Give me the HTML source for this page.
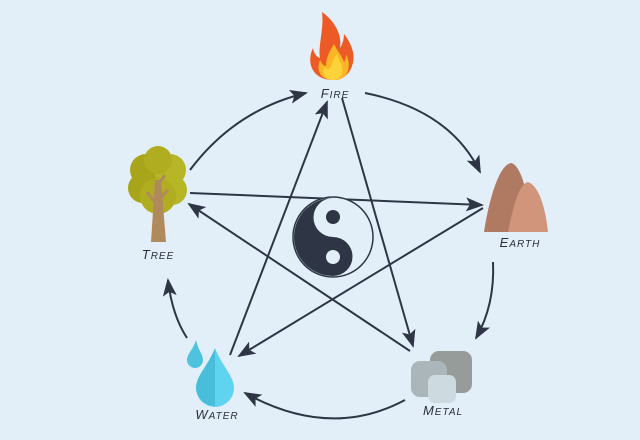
<!DOCTYPE html>
<html><head><meta charset="utf-8"><style>
html,body{margin:0;padding:0;background:#e2eff9;}
svg{display:block}
text{font-family:"Liberation Sans",sans-serif;font-style:italic;fill:#2b2f38;letter-spacing:1px}
</style></head><body>
<svg width="640" height="440" viewBox="0 0 640 440" xmlns="http://www.w3.org/2000/svg">
<defs>
<marker id="b" markerWidth="18" markerHeight="14" refX="16" refY="7" orient="auto" markerUnits="userSpaceOnUse">
<path d="M0,0 L18,7 L0,14 L4,7 Z" fill="#2e3645"/>
</marker>
</defs>
<rect width="640" height="440" fill="#e2eff9"/>
<g fill="none" stroke="#2e3645" stroke-width="2">
<path d="M190,170 Q235,110 306,93" marker-end="url(#b)"/>
<path d="M365,93 Q450,110 480,172" marker-end="url(#b)"/>
<path d="M493,262 Q495,305 476,338" marker-end="url(#b)"/>
<path d="M405,400 Q330,440 245,393" marker-end="url(#b)"/>
<path d="M187,338 Q172,315 168,280" marker-end="url(#b)"/>
<path d="M342,98 L413,346" marker-end="url(#b)"/>
<path d="M230,355 L327,102" marker-end="url(#b)"/>
<path d="M190,193 L482,205" marker-end="url(#b)"/>
<path d="M483,208 L239,356" marker-end="url(#b)"/>
<path d="M410,351 L189,204" marker-end="url(#b)"/>
</g>
<circle cx="333" cy="237" r="40" fill="#e2eff9" stroke="#2e3645" stroke-width="1.5"/>
<path d="M333,198 A39,39 0 0 0 333,276 A19.5,19.5 0 0 0 333,237 A19.5,19.5 0 0 1 333,198 Z" fill="#2e3645"/>
<circle cx="333" cy="217" r="7" fill="#2e3645"/>
<circle cx="333" cy="257" r="7" fill="#e2eff9"/>
<path d="M333,80 C312,80 306,62 313,48 C314,54 317,57 320,58 C318,45 324,30 322,12 C336,22 342,36 340,48 C343,44 344,38 344,34 C352,44 356,56 352,66 C349,75 342,80 333,80 Z" fill="#ec5b26"/>
<path d="M333,80 C320,80 316,70 320,60 C322,64 324,66 326,66 C326,58 330,50 334,44 C338,52 342,56 344,62 C346,60 346,56 346,54 C350,62 350,72 344,77 C340,80 337,80 333,80 Z" fill="#fbb525"/>
<path d="M333,80 C325,80 322,73 324,67 C327,70 330,70 331,66 C333,60 336,56 337,54 C340,62 344,68 342,74 C340,78 337,80 333,80 Z" fill="#fed33a"/>
<g>
<circle cx="146" cy="170" r="16" fill="#a9a51b"/>
<circle cx="170" cy="170" r="16" fill="#b7b626"/>
<circle cx="158" cy="160" r="14" fill="#b0ad20"/>
<circle cx="143" cy="188" r="15" fill="#a9a51b"/>
<circle cx="172" cy="190" r="15" fill="#b7b626"/>
<circle cx="158" cy="196" r="18" fill="#b0ad20"/>
<path d="M151,242 L155,180 L161,180 L166,242 Z" fill="#b08a5c"/>
<path d="M157,205 L147,192 M159,200 L168,190 M158,185 L165,175" stroke="#b08a5c" stroke-width="3"/>
</g>
<path d="M484,232 C488,205 498,165 511,163 C522,165 530,200 530,232 Z" fill="#b07a62"/>
<path d="M508,232 C512,212 518,184 528,182 C540,186 546,212 548,232 Z" fill="#d1957c"/>
<path d="M196,340 C193,350 187,354 187,360 A8,8 0 0 0 203,360 C203,354 198,350 196,340 Z" fill="#4ec3e0"/>
<path d="M215,348 C208,366 196,376 196,388 A19,19 0 0 0 234,388 C234,376 222,366 215,348 Z" fill="#5fd3f0"/>
<path d="M215,348 C208,366 196,376 196,388 A19,19 0 0 0 215,406 Z" fill="#49bedb"/>
<rect x="430" y="351" width="42" height="42" rx="9" fill="#959c9a"/>
<rect x="411" y="361" width="36" height="36" rx="9" fill="#aab6ba"/>
<rect x="428" y="375" width="28" height="28" rx="7" fill="#cddbe0"/>
<text x="335" y="98" font-size="13" text-anchor="middle">F<tspan font-size="10">IRE</tspan></text>
<text x="158" y="259" font-size="13" text-anchor="middle">T<tspan font-size="10">REE</tspan></text>
<text x="520" y="247" font-size="13" text-anchor="middle">E<tspan font-size="10">ARTH</tspan></text>
<text x="217" y="419" font-size="13" text-anchor="middle">W<tspan font-size="10">ATER</tspan></text>
<text x="443" y="415" font-size="13" text-anchor="middle">M<tspan font-size="10">ETAL</tspan></text>
</svg>
</body></html>
